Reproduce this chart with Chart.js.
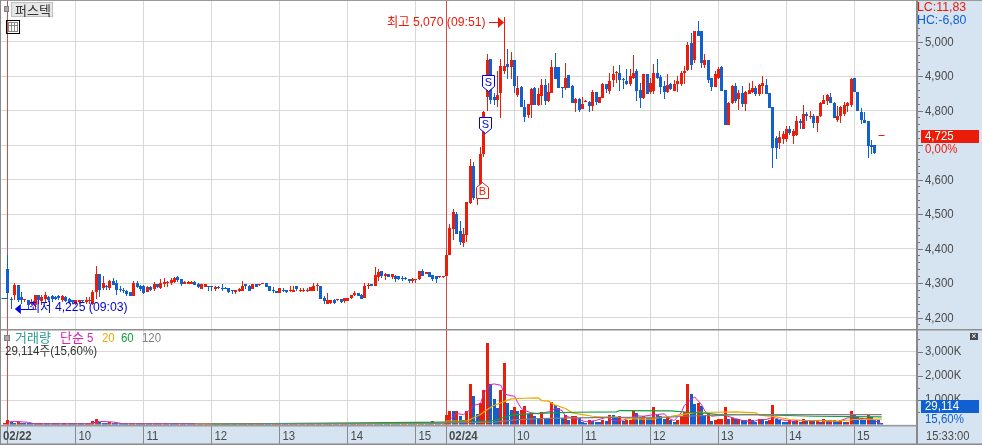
<!DOCTYPE html>
<html><head><meta charset="utf-8">
<style>html,body{margin:0;padding:0;background:#fff;overflow:hidden}canvas{position:absolute;left:0;display:block}</style>
<script src="https://cdn.jsdelivr.net/npm/chart.js@4"></script>
</head><body>
<canvas id="p" width="982" height="329" style="top:0;width:982px;height:329px"></canvas>
<canvas id="v" width="982" height="116" style="top:329px;width:982px;height:116px"></canvas>
<script>
const opens=[4255,
4340,4255,4265,4295,4260,4250,4250,4240,4235,4265,
4248,4255,4260,4262,4260,4262,4250,4260,4255,4250,
4240,4245,4250,4245,4247,4240,4275,4325,4285,4290,
4285,4305,4300,4283,4280,4277,4275,4262,4300,4291,
4291,4274,4288,4282,4296,4285,4296,4300,4301,4304,
4317,4311,4298,4298,4298,4304,4298,4283,4288,4290,
4290,4282,4289,4286,4286,4285,4278,4274,4276,4277,
4297,4292,4283,4297,4295,4297,4300,4291,4279,4278,
4270,4279,4280,4276,4275,4291,4276,4276,4276,4277,
4278,4291,4291,4256,4240,4241,4252,4250,4254,4248,
4249,4258,4264,4271,4266,4258,4291,4298,4290,4317,
4334,4319,4326,4316,4320,4319,4313,4313,4312,4305,
4310,4311,4336,4325,4332,4322,4319,4316,4316,4320,
4380,4457,4500,4450,4415,4440,4533,4638,4545,4555,
4675,4840,4950,4840,4830,4850,4915,4935,4925,4945,
4845,4867,4810,4787,4815,4865,4817,4843,4875,4828,
4852,4925,4925,4866,4866,4902,4870,4823,4833,4805,
4825,4825,4814,4853,4823,4836,4878,4857,4888,4908,
4910,4892,4885,4877,4893,4915,4858,4835,4905,4854,
4857,4910,4898,4870,4854,4878,4856,4877,4877,4908,
4918,4995,4947,5030,5030,4932,4946,4893,4869,4893,
4926,4859,4757,4821,4870,4833,4850,4818,4847,4854,
4865,4847,4872,4875,4850,4810,4720,4705,4717,4717,
4746,4727,4729,4770,4747,4790,4780,4785,4763,4783,
4820,4828,4838,4822,4773,4783,4790,4814,4816,4893,
4855,4796,4773,4770,4700,4700,4725,4725];
const closes=[4255,
4270,4250,4295,4250,4250,4255,4235,4245,4265,4250,
4260,4265,4250,4254,4254,4258,4263,4248,4245,4245,
4250,4250,4247,4252,4250,4275,4325,4280,4300,4288,
4305,4295,4280,4281,4278,4269,4262,4299,4288,4282,
4270,4287,4279,4296,4288,4299,4304,4304,4308,4315,
4308,4298,4304,4304,4304,4294,4288,4296,4296,4288,
4288,4289,4286,4284,4284,4273,4276,4279,4282,4291,
4291,4277,4297,4289,4297,4300,4289,4277,4277,4270,
4285,4277,4275,4278,4281,4283,4281,4278,4281,4287,
4291,4293,4254,4248,4252,4250,4242,4252,4244,4256,
4256,4264,4272,4263,4255,4291,4295,4291,4322,4332,
4319,4327,4317,4326,4311,4311,4311,4311,4305,4313,
4312,4335,4321,4332,4317,4313,4311,4318,4318,4380,
4460,4505,4443,4418,4443,4535,4638,4547,4555,4673,
4795,4945,4830,4830,4845,4930,4930,4925,4945,4870,
4865,4810,4780,4820,4862,4815,4847,4875,4828,4855,
4925,4892,4865,4864,4895,4866,4823,4833,4802,4820,
4828,4814,4853,4826,4838,4878,4862,4885,4905,4912,
4888,4888,4877,4900,4910,4856,4836,4905,4847,4879,
4910,4895,4867,4854,4873,4862,4878,4885,4910,4914,
4990,4932,5030,5016,4937,4946,4889,4869,4905,4920,
4857,4757,4821,4872,4828,4850,4818,4855,4860,4865,
4847,4875,4880,4847,4807,4690,4690,4722,4732,4745,
4735,4742,4770,4763,4790,4783,4785,4763,4783,4822,
4830,4845,4822,4778,4783,4811,4816,4822,4891,4855,
4800,4773,4763,4698,4695,4677,4725,4725];
const highs=[4255,
4380,4260,4300,4295,4275,4255,4250,4255,4265,4265,
4265,4275,4262,4265,4262,4265,4265,4262,4258,4252,
4252,4252,4252,4260,4260,4280,4350,4325,4320,4295,
4310,4315,4310,4290,4285,4280,4275,4305,4305,4295,
4293,4292,4290,4304,4298,4311,4315,4306,4314,4317,
4320,4312,4305,4305,4305,4305,4299,4298,4298,4292,
4291,4290,4290,4296,4287,4286,4279,4280,4285,4306,
4297,4293,4297,4298,4298,4300,4300,4291,4288,4278,
4285,4286,4281,4290,4291,4292,4286,4285,4286,4287,
4300,4299,4291,4262,4272,4252,4253,4253,4255,4256,
4256,4265,4278,4272,4267,4300,4300,4298,4347,4342,
4336,4328,4327,4327,4323,4320,4319,4318,4313,4314,
4313,4335,4342,4332,4332,4323,4320,4318,4318,4395,
4470,4515,4505,4480,4460,4535,4658,4650,4555,4693,
4800,4965,4950,4850,4915,4950,5070,4977,4970,4945,
4900,4870,4830,4820,4865,4868,4865,4892,4892,4880,
4945,4968,4925,4868,4938,4902,4873,4835,4835,4838,
4830,4828,4858,4855,4840,4880,4878,4910,4928,4915,
4933,4893,4920,4920,4960,4920,4880,4905,4905,4893,
4934,4949,4902,4885,4905,4880,4889,4900,4914,4928,
5000,5024,5030,5058,5030,4963,4946,4895,4915,4925,
4930,4859,4825,4875,4880,4860,4871,4857,4880,4885,
4871,4877,4900,4891,4850,4810,4725,4742,4741,4756,
4755,4745,4785,4775,4816,4795,4800,4790,4785,4825,
4845,4848,4850,4825,4812,4812,4824,4825,4893,4893,
4855,4808,4795,4770,4715,4700,4725,4725];
const lows=[4255,
4255,4225,4250,4245,4240,4245,4225,4235,4225,4240,
4235,4245,4245,4245,4250,4250,4245,4245,4238,4240,
4235,4240,4245,4240,4240,4235,4255,4260,4280,4280,
4280,4295,4265,4273,4272,4262,4262,4262,4285,4278,
4268,4273,4278,4278,4285,4283,4288,4288,4295,4300,
4303,4292,4297,4297,4297,4293,4285,4282,4287,4277,
4277,4277,4282,4277,4282,4272,4269,4268,4275,4276,
4283,4277,4282,4289,4291,4297,4289,4277,4270,4270,
4270,4275,4270,4274,4274,4276,4275,4275,4275,4277,
4278,4278,4254,4240,4240,4240,4238,4248,4243,4243,
4249,4255,4262,4263,4255,4258,4283,4291,4290,4305,
4315,4310,4316,4311,4303,4310,4306,4308,4299,4299,
4299,4310,4320,4325,4317,4307,4299,4315,4315,4320,
4380,4425,4443,4410,4405,4420,4530,4540,4525,4555,
4665,4800,4820,4815,4810,4778,4905,4890,4890,4850,
4840,4810,4768,4778,4778,4815,4813,4815,4815,4825,
4850,4892,4865,4837,4858,4866,4823,4795,4795,4805,
4825,4795,4800,4815,4822,4835,4852,4847,4867,4880,
4857,4862,4875,4872,4890,4828,4807,4832,4847,4847,
4847,4890,4847,4833,4852,4860,4856,4854,4870,4876,
4915,4918,4937,5016,4922,4922,4881,4857,4867,4890,
4857,4757,4757,4818,4823,4802,4809,4799,4847,4850,
4842,4842,4847,4847,4807,4633,4660,4688,4703,4708,
4730,4703,4725,4745,4745,4770,4775,4750,4738,4780,
4818,4815,4822,4778,4768,4764,4785,4795,4809,4855,
4800,4760,4763,4663,4673,4674,4725,4725];
const volumes=[30,
205,100,60,90,80,70,40,30,20,25,
30,25,20,40,25,30,20,35,25,20,
30,25,20,30,40,130,240,100,80,70,
90,60,50,40,30,25,35,45,30,25,
35,30,25,40,30,35,60,40,30,25,
30,25,35,30,25,30,25,20,35,25,
30,25,20,30,25,20,35,30,25,30,
25,30,20,25,35,30,25,20,30,25,
35,30,25,20,30,25,35,30,25,30,
25,35,30,40,35,25,30,20,25,30,
25,20,30,25,30,40,35,60,50,40,
35,30,25,30,25,20,25,30,25,20,
30,45,35,30,25,130,60,50,70,411,
575,535,535,330,205,575,1685,1190,440,890,
1400,3370,1685,1030,660,1440,2550,900,615,700,
535,615,780,450,480,370,275,520,275,270,
930,820,660,275,410,205,340,345,275,95,
70,190,135,110,85,190,135,410,400,275,
370,135,165,205,550,490,300,350,275,270,
700,410,340,245,300,165,110,165,340,520,
1685,1275,860,890,780,340,490,135,165,220,
245,740,245,275,220,245,205,190,245,165,
110,220,165,135,205,795,245,165,110,100,
165,135,165,110,245,165,190,165,170,110,
245,165,205,165,135,190,100,100,535,400,
300,275,205,410,300,205,165,29.114];
const ma5Pos=[1,3,7,9,25,26,28,32,35,61,101,125,129,131,133,135,137,138,140,141,143,144,146,147,149,150,151,152,153,155,157,160,162,164,165,167,169,171,174,177,179,182,184,186,188,190,192,194,196,197,199,200,202,203,205,206,208,210,212,215,217,220,222,224,226,228,230,231,235,239,242,245,248,250,253,255,258];
const ma5Vals=[100,130,90,25,25,70,130,100,30,30,30,50,55,205,450,410,615,795,850,1300,1645,1670,1615,1260,1180,1165,890,660,575,480,440,520,660,575,340,275,205,110,165,300,165,180,275,355,340,385,410,440,205,165,480,795,1030,1135,820,550,340,370,370,245,165,110,205,205,300,205,165,135,165,165,165,110,275,275,245,220,29];
const ma20Pos=[56,129,130,136,138,140,142,144,146,149,153,157,158,160,162,165,167,170,173,176,180,184,188,191,192,196,199,204,209,215,221,222,227,231,235,245,250,258];
const ma20Vals=[25,40,135,135,275,410,615,795,890,1055,1080,1095,985,960,795,660,480,410,340,300,300,245,220,220,275,340,410,505,505,520,480,385,315,205,165,135,205,220];
const ma60Pos=[61,138,144,149,155,161,168,180,181,196,201,206,210,222,230,238,258];
const ma60Vals=[12,110,165,385,450,480,505,520,575,560,505,465,410,410,370,340,315];
const ma120Pos=[1,125,130,144,150,157,167,180,196,199,215,258];
const ma120Vals=[10,40,70,95,190,245,275,290,300,340,410,410];
const xTickPos=[0.82,21,41,61,81,101,121,130,150,170,190,210,230,250];
const xTickLabels=['02/22','10','11','12','13','14','15','02/24','10','11','12','13','14','15'];
const dayStartPos=[0.82,130];
const priceLabels=[4200,4300,4400,4500,4600,4700,4800,4900,5000];
const volLabels=[1000,2000,3000];
const markerPos=[142.2,141.2,140.4];
const markerPrice=[4880,4758,4570];
const markerText=['S','S','B'];
const stockName='퍼스텍';
const highNote='최고 5,070 (09:51)';
const lowNote='최저 4,225 (09:03)';
const highPos=147,highPrice=5070,lowPos=2,lowPrice=4225;
const prevClose=4255,prevClosePos=0,lastClose=4725,lastClosePos=257.8;

const RED='#ea1c0a',BLUE='#1060d0',GRID='#d8d8d8',PANEL='#d6e3f1',EDGE='#8a8a8a',TXT='#4a4a4a';
const LAT='"Liberation Sans","Noto Sans CJK KR",sans-serif';
const FONT=s=>s+'px '+LAT;
const fmt=v=>String(v).replace(/\B(?=(\d{3})+$)/g,',');
const pos=opens.map((_,k)=>k);
const candlePos=pos.filter(k=>k>=1&&k<=256);
function T(c,s,x,y,col,f,al,sx){c.save();c.translate(x,y);c.scale(sx||1,1);c.font=f;c.fillStyle=col;c.textAlign=al||'left';c.textBaseline='middle';c.fillText(s,0,0);c.restore();}
function R(c,x,y,w,h,col){c.fillStyle=col;c.fillRect(x,y,w,h);}
const noPad=s=>{s.paddingTop=s.paddingBottom=s.paddingLeft=s.paddingRight=0;};

const snapBars={id:'snapBars',beforeDatasetsDraw(ch){
 const c=ch.ctx,a=ch.chartArea,x=ch.scales.x;
 dayStartPos.forEach(p=>R(c,Math.round(x.getPixelForValue(p)-.5),a.top,1,a.bottom-a.top,'#d24a4a'));
 ch.data.datasets.forEach((d,i)=>{const m=ch.getDatasetMeta(i);if(m.type!=='bar')return;
 m.data.forEach(el=>{el.x=Math.round(el.x-0.5)+0.5;el.y=Math.round(el.y);el.base=Math.round(el.base);if(el.y===el.base)el.base+=1;});});}};

function xScale(withLabels){return{type:'linear',min:-1.03,max:268.38,offset:false,
 afterBuildTicks:s=>{s.ticks=xTickPos.map(value=>({value}));},
 afterFit:s=>{s.height=withLabels?20.5:0;noPad(s);},
 grid:{offset:false,drawTicks:withLabels,tickLength:20,tickColor:EDGE,lineWidth:1,
   color:c=>dayStartPos.includes(c.tick&&c.tick.value)?'rgba(0,0,0,0)':GRID},
 border:{display:false},
 ticks:{display:false,autoSkip:false,maxRotation:0,minRotation:0,callback:(v,i)=>xTickLabels[i]}};}
function yAxis(min,max,from,to,step,labels,suffix){return{position:'right',min,max,
 afterFit:s=>{s.width=65;noPad(s);},
 afterBuildTicks:s=>{const t=[];for(let v=from;v<=to;v+=step)t.push({value:v});s.ticks=t;},
 grid:{drawTicks:false,lineWidth:1,color:c=>labels.includes(c.tick&&c.tick.value)?GRID:'rgba(0,0,0,0)'},
 border:{display:false},
 ticks:{display:false,autoSkip:false,callback:v=>labels.includes(v)?fmt(v)+suffix:''}};}
function axisMarks(c,scale,labels,dy,suffix){const x=scale.left;
 for(const t of scale.ticks){const y=Math.round(scale.getPixelForValue(t.value));
  const major=labels.includes(t.value);R(c,x,y,major?6:3,1,'#777');
  if(major)T(c,fmt(t.value)+suffix,925,y+dy,TXT,FONT(13),'left',0.88);}}

const priceDecor={id:'priceDecor',
 beforeDraw(ch){const c=ch.ctx;R(c,0,0,982,329,'#fff');R(c,917,0,65,329,PANEL);},
 afterDatasetsDraw(ch){const c=ch.ctx,x=ch.scales.x,y=ch.scales.y;
  const hx=Math.round(x.getPixelForValue(highPos)),hy=Math.round(y.getPixelForValue(highPrice))+5;
  T(c,highNote,387,hy,RED,FONT(13),'left',0.94);
  R(c,hx-15,hy,10,1,RED);
  c.fillStyle=RED;c.beginPath();c.moveTo(hx-6,hy-5);c.lineTo(hx,hy+.5);c.lineTo(hx-6,hy+6);c.fill();
  const lx=x.getPixelForValue(lowPos),ly=Math.round(y.getPixelForValue(lowPrice));
  c.fillStyle='#0000e0';c.beginPath();c.moveTo(lx+3.5,ly);c.lineTo(lx+9.5,ly-5);c.lineTo(lx+9.5,ly+5);c.fill();
  R(c,lx+9,ly,10,1,'#0000e0');
  T(c,lowNote,29,ly-2,'#0000e0',FONT(13),'left',0.94);
  markerText.forEach((m,i)=>{const mx=Math.round(x.getPixelForValue(markerPos[i]))+.5,my=Math.round(y.getPixelForValue(markerPrice[i]))+.5;
   const col=m==='S'?'#0000e0':RED;c.fillStyle='#fff';c.strokeStyle=col;c.lineWidth=1;c.beginPath();
   if(m==='S'){c.moveTo(mx-6,my-8);c.lineTo(mx+6,my-8);c.lineTo(mx+6,my+3);c.lineTo(mx,my+8);c.lineTo(mx-6,my+3);}
   else{c.moveTo(mx,my-8);c.lineTo(mx+6,my-3);c.lineTo(mx+6,my+8);c.lineTo(mx-6,my+8);c.lineTo(mx-6,my-3);}
   c.closePath();c.fill();c.stroke();
   T(c,m,mx,my+(m==='S'?-1:1.5),col,'11px "Liberation Sans",sans-serif','center');});
 },
 afterDraw(ch){const c=ch.ctx,y=ch.scales.y;
  R(c,917,0,65,329,PANEL);
  axisMarks(c,y,priceLabels,0,'');
  R(c,0,0,982,1,'#9a9a9a');R(c,0,0,1,329,EDGE);R(c,916,0,2,329,EDGE);
  R(c,4,6,5,6,'#aaa');c.strokeStyle='#808080';c.lineWidth=1;c.strokeRect(4.5,6.5,4,5);
  R(c,11,2,42,15,'#e6e6e6');c.strokeStyle='#c0c0c0';c.strokeRect(11.5,2.5,41,14);
  T(c,stockName,15,10,'#333','13px "Noto Sans CJK KR",sans-serif');
  c.strokeStyle='#000';c.strokeRect(6.5,20.5,13,13);c.strokeStyle='#888';c.strokeRect(8.5,22.5,9,9);
  R(c,8,25,10,1,'#888');R(c,11,22,1,9,'#888');R(c,14,22,1,9,'#888');
  T(c,'LC:11,83',917,7,RED,FONT(13),'left',0.95);
  T(c,'HC:-6,80',917,20,BLUE,FONT(13),'left',0.95);
  const cy=Math.round(y.getPixelForValue(lastClose));
  R(c,923,cy+6,50,14,PANEL);
  R(c,921,cy-6,58,13,RED);
  T(c,'4,725',925,cy,'#fff',FONT(13),'left',0.88);
  T(c,'0,00%',925,cy+13,RED,FONT(13),'left',0.88);
 }};

new Chart(document.getElementById('p'),{type:'bar',
 data:{datasets:[
  {label:'high-low',data:candlePos.map(k=>({x:k,y:[lows[k],highs[k]]})),barThickness:1,grouped:false,order:3,inflateAmount:0,
   backgroundColor:candlePos.map(k=>closes[k]>=opens[k]?RED:BLUE)},
  {label:'open-close',data:candlePos.map(k=>({x:k,y:[opens[k],closes[k]]})),barThickness:3,grouped:false,order:2,inflateAmount:0,minBarLength:1,
   backgroundColor:candlePos.map(k=>closes[k]>=opens[k]?RED:BLUE)},
  {label:'reference close',data:[{x:prevClosePos,y:[prevClose,prevClose]},{x:lastClosePos,y:[lastClose,lastClose]}],barThickness:6,grouped:false,order:1,inflateAmount:0,minBarLength:1,
   backgroundColor:[BLUE,RED]}]},
 options:{responsive:false,animation:false,devicePixelRatio:1,events:[],
  layout:{padding:{left:1,right:0,top:0,bottom:0}},
  plugins:{legend:{display:false},tooltip:{enabled:false}},
  scales:{x:xScale(false),y:yAxis(4166.7,5120.3,4180,5040,20,priceLabels,'')}},
 plugins:[snapBars,priceDecor]});

const volDecor={id:'volDecor',
 beforeDraw(ch){const c=ch.ctx;R(c,0,0,982,116,'#fff');R(c,0,95.5,982,20.5,PANEL);R(c,917,0,65,116,PANEL);},
 afterDraw(ch){const c=ch.ctx,y=ch.scales.y,x=ch.scales.x;
  R(c,917,0,65,116,PANEL);
  axisMarks(c,y,volLabels,-1,'K');
  R(c,0,0,982,1.5,'#8f8f8f');R(c,0,0,1,116,EDGE);R(c,916,0,2,116,EDGE);
  R(c,0,96,917,1.5,'#9a9a9a');R(c,0,114.5,982,1.5,EDGE);
  R(c,4,6,6,6,'#a8a8a8');c.strokeStyle='#808080';c.lineWidth=1;c.strokeRect(4.5,6.5,5,5);
  const ly=9;
  T(c,'거래량',15,ly,'#2a9d92',FONT(13));
  T(c,'단순',60,ly,'#e020b0',FONT(13));
  T(c,'5',87,ly,'#e020b0',FONT(13),'left',0.88);
  T(c,'20',102,ly,'#f0a800',FONT(13),'left',0.88);
  T(c,'60',121,ly,'#10a040',FONT(13),'left',0.88);
  T(c,'120',142,ly,'#808080',FONT(13),'left',0.88);
  T(c,'29,114주(15,60%)',5,22.5,'#333',FONT(13),'left',0.89);
  R(c,921,71,58,13,BLUE);
  T(c,'29,114',925,77.5,'#fff',FONT(13),'left',0.88);
  T(c,'15,60%',925,90,BLUE,FONT(13),'left',0.88);
  R(c,970,4,8,7,'#4a4a4a');T(c,'×',974,7.5,'#fff','9px "Liberation Sans",sans-serif','center');
  xTickLabels.forEach((s,i)=>{const bold=s.includes('/');const px=x.getPixelForValue(xTickPos[i]);
   T(c,s,i===0?3:px+2.5,107,TXT,(bold?'bold ':'')+FONT(13),'left',0.88);});
  T(c,'15:33:00',926,107,TXT,FONT(13),'left',0.86);
 }};

const lineSet=(label,px,py,col,w)=>({type:'line',label,data:px.map((p,i)=>({x:p,y:py[i]})),borderColor:col,borderWidth:w||1,pointRadius:0,tension:0,order:0});
new Chart(document.getElementById('v'),{type:'bar',
 data:{datasets:[
  lineSet('120',ma120Pos,ma120Vals,'#808080',1.2),
  lineSet('60',ma60Pos,ma60Vals,'#10a040',1.2),
  lineSet('20',ma20Pos,ma20Vals,'#f0a800',1.2),
  lineSet('5',ma5Pos,ma5Vals,'#e020b0',1),
  {label:'volume',data:pos.map(k=>({x:k,y:volumes[k]})),barThickness:3,grouped:false,order:1,inflateAmount:0,minBarLength:2,
   backgroundColor:pos.map(k=>k===0||volumes[k]>=volumes[k-1]?RED:BLUE)}]},
 options:{responsive:false,animation:false,devicePixelRatio:1,events:[],
  layout:{padding:{left:1,right:0,top:0,bottom:0}},
  plugins:{legend:{display:false},tooltip:{enabled:false}},
  scales:{x:xScale(true),y:yAxis(0,3930,500,3500,500,volLabels,'K')}},
 plugins:[snapBars,volDecor]});
</script>
</body></html>
